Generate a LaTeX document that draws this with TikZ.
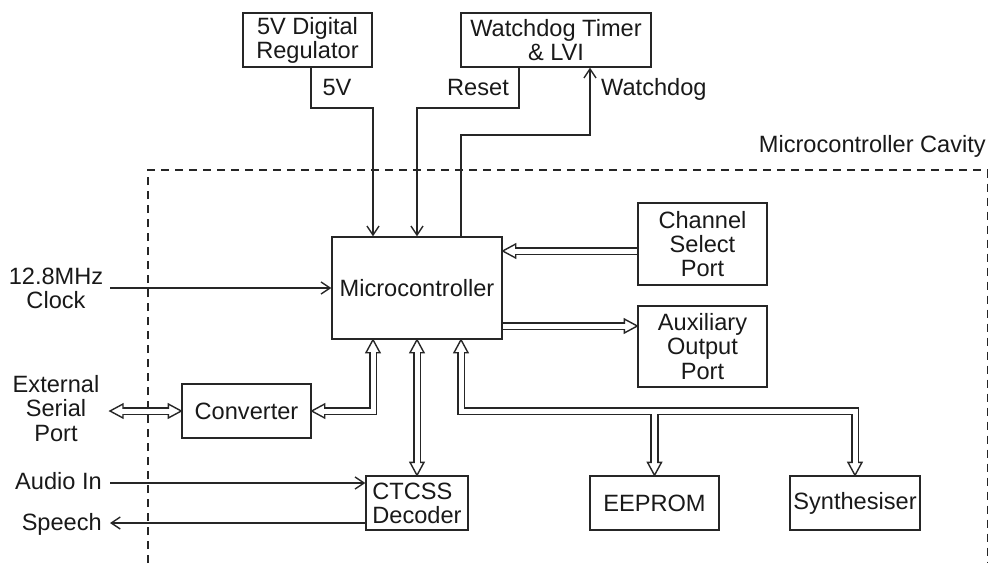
\documentclass[tikz,border=0pt]{standalone}
\usepackage{fontspec}
\setmainfont{Liberation Sans}
\usetikzlibrary{arrows.meta,calc}
\pgfdeclarelayer{bg}
\pgfsetlayers{bg,main}
\newcommand\mybuspaths[2]{%
  \draw[#1, shorten >=#2] (csp.west |- bcs) -- (mc.east |- bcs);
  \draw[#1, shorten >=#2] (mc.east |- bao) -- (aop.west |- bao);
  \draw[#1, shorten <=#2, shorten >=#2] (ext) -- (conv.west);
  \draw[#1, shorten <=#2, shorten >=#2] (mc.south -| bcv) -- (bcv) -- (conv.east);
  \draw[#1, shorten <=#2, shorten >=#2] (mc.south -| bct) -- (ctcss.north);
  \draw[#1, shorten <=#2, shorten >=#2] (mc.south -| bm1) -- (bm1) -- (bm2) -- (syn.north);
  \draw[#1, shorten >=#2] (bme) -- (eep.north);
}
\begin{document}
\begin{tikzpicture}[x=1pt,y=-1pt,
  every node/.style={font=\fontsize{23.6pt}{24.2pt}\selectfont, text=black!90},
  box/.style={draw=black!85, line width=1.4pt, inner sep=0pt, align=center},
  lbl/.style={inner sep=0pt},
  sig/.style={draw=black!85, line width=1.4pt, -{Straight Barb[length=9pt,width=12pt]}},
  busout/.style={draw=black!85, line width=8.4pt, line join=miter, line cap=butt},
  busin/.style={draw=white, line width=5pt, line join=miter, line cap=butt},
  bhead/.pic={\draw[black!85, line width=1.4pt, fill=white, line join=miter] (0,0) -- (-13,7) -- (-13,-7) -- cycle;},
  cavity/.style={draw=black!85, line width=1.2pt, dash pattern=on 8pt off 6pt}
]
\useasboundingbox (0,0) rectangle (989,563);

% cavity outline
\draw[cavity] (148,563) -- (148,170) -- (987.5,170) -- (987.5,563);
\node[lbl, anchor=base east] (lcav) at (986,152) {Microcontroller Cavity};

% blocks
\node[box, minimum width=129pt, minimum height=54pt] (reg) at (307.5,40) {5V Digital\\Regulator};
\node[box, minimum width=190pt, minimum height=54pt] (wdt) at (556,40) {Watchdog Timer\\\& LVI};
\node[box, minimum width=170pt, minimum height=102pt] (mc) at (417,288) {Microcontroller};
\node[box, minimum width=129pt, minimum height=82pt] (csp) at (702.5,244) {Channel\\Select\\Port};
\node[box, minimum width=129pt, minimum height=81pt] (aop) at (702.5,346.5) {Auxiliary\\Output\\Port};
\node[box, minimum width=129pt, minimum height=54pt] (conv) at (246.5,411) {Converter};
\node[box, align=left, minimum width=102pt, minimum height=54pt] (ctcss) at (417,503) {CTCSS\\Decoder};
\node[box, minimum width=129pt, minimum height=54pt] (eep) at (654.5,503) {EEPROM};
\node[box, minimum width=130pt, minimum height=54pt] (syn) at (855,503) {Synthesiser};

% labels
\node[lbl, anchor=base] (l5v) at (337,95) {5V};
\node[lbl, anchor=base] (lreset) at (478,95) {Reset};
\node[lbl, anchor=base west] (lwd) at (601,95) {Watchdog};
\node[align=center] (lclk) at (56,288) {12.8MHz\\Clock};
\node[align=center] (lext) at (56,408.5) {External\\Serial\\Port};
\node[lbl, anchor=base east] (laud) at (102,489) {Audio In};
\node[lbl, anchor=base east] (lsp) at (102,530.5) {Speech};

% route points
\coordinate (p5a) at (311,108);
\coordinate (p5b) at (373,108);
\coordinate (pra) at (519,108);
\coordinate (prb) at (417,108);
\coordinate (pwa) at (461,135);
\coordinate (pwb) at (590,135);
\coordinate (clk) at (110,288);
\coordinate (aud) at (110,483);
\coordinate (spc) at (110,523);
\coordinate (ext) at (110,411);
\coordinate (bcs) at (0,251);
\coordinate (bao) at (0,326);
\coordinate (bcv) at (373,411);
\coordinate (bct) at (417,0);
\coordinate (bm1) at (461,411);
\coordinate (bm2) at (855,411);
\coordinate (bme) at (654.5,411);

% single signal lines
\draw[sig] (reg.south -| p5a) -- (p5a) -- (p5b) -- (p5b |- mc.north);
\draw[sig] (wdt.south -| pra) -- (pra) -- (prb) -- (prb |- mc.north);
\draw[sig] (mc.north -| pwa) -- (pwa) -- (pwb) -- (pwb |- wdt.south);
\draw[sig] (clk) -- (mc.west);
\draw[sig] (aud) -- (aud -| ctcss.west);
\draw[sig] (spc -| ctcss.west) -- (spc);

% buses
\begin{pgfonlayer}{bg}
\mybuspaths{busout}{13}
\pic[rotate=180] at (mc.east |- bcs) {bhead};
\pic at (aop.west |- bao) {bhead};
\pic[rotate=180] at (ext) {bhead};
\pic at (conv.west) {bhead};
\pic[rotate=90] at (mc.south -| bcv) {bhead};
\pic[rotate=180] at (conv.east) {bhead};
\pic[rotate=90] at (mc.south -| bct) {bhead};
\pic[rotate=-90] at (ctcss.north) {bhead};
\pic[rotate=90] at (mc.south -| bm1) {bhead};
\pic[rotate=-90] at (syn.north) {bhead};
\pic[rotate=-90] at (eep.north) {bhead};
\mybuspaths{busin}{11}
\end{pgfonlayer}
\end{tikzpicture}
\end{document}
